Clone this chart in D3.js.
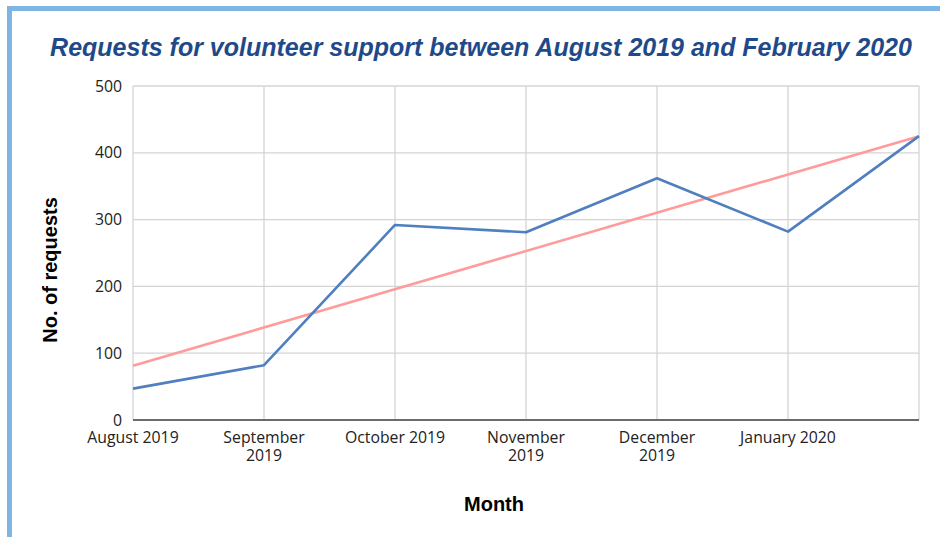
<!DOCTYPE html>
<html>
<head>
<meta charset="utf-8">
<script src="https://cdn.jsdelivr.net/npm/d3@7/dist/d3.min.js"></script>
<style>
  html, body { margin: 0; padding: 0; background: #ffffff; }
  svg { display: block; }
</style>
</head>
<body>
<svg id="chart" width="940" height="537"></svg>
<script>
// Monthly volunteer-support requests
const months = [
  ["August 2019"],
  ["September", "2019"],
  ["October 2019"],
  ["November", "2019"],
  ["December", "2019"],
  ["January 2020"],
  [""]
];
const requests = [47, 82, 292, 281, 362, 282, 425];
const yTicks = [0, 100, 200, 300, 400, 500];

const W = 940, H = 537;
const margin = { left: 133, right: 21, top: 86, bottom: 117 };
const tickFont = "'Open Sans', 'Noto Sans', sans-serif";
const tickSize = 15.8;

const svg = d3.select("#chart");

// Light-blue frame on the top and left edges
svg.append("rect").attr("x", 7).attr("y", 6).attr("width", W - 7).attr("height", 5).attr("fill", "#7fb5e4");
svg.append("rect").attr("x", 7).attr("y", 6).attr("width", 5).attr("height", H - 6).attr("fill", "#7fb5e4");

const x = d3.scalePoint()
  .domain(d3.range(months.length))
  .range([margin.left, W - margin.right]);

const y = d3.scaleLinear()
  .domain([0, 500])
  .range([H - margin.bottom, margin.top]);

// Horizontal gridlines
svg.append("g")
  .selectAll("line")
  .data(yTicks.filter(d => d > 0))
  .join("line")
  .attr("x1", margin.left).attr("x2", W - margin.right)
  .attr("y1", d => y(d)).attr("y2", d => y(d))
  .attr("stroke", "#d4d4d4").attr("stroke-width", 1.3);

// Vertical gridlines at every month
svg.append("g")
  .selectAll("line")
  .data(d3.range(months.length))
  .join("line")
  .attr("x1", d => x(d)).attr("x2", d => x(d))
  .attr("y1", margin.top).attr("y2", H - margin.bottom)
  .attr("stroke", "#d4d4d4").attr("stroke-width", 1.3);

// Y axis labels
const yAxis = d3.axisLeft(y).tickValues(yTicks).tickSize(0).tickPadding(11);
const yg = svg.append("g").attr("transform", `translate(${margin.left},0)`).call(yAxis);
yg.select(".domain").remove();
yg.selectAll("text")
  .attr("font-family", tickFont)
  .attr("font-size", tickSize)
  .attr("fill", "#222");

// X axis baseline
svg.append("line")
  .attr("x1", margin.left).attr("x2", W - margin.right)
  .attr("y1", y(0)).attr("y2", y(0))
  .attr("stroke", "#6b6b6b").attr("stroke-width", 2);

// Month labels (wrapped onto two lines where needed)
const xl = svg.append("g")
  .selectAll("text")
  .data(months)
  .join("text")
  .attr("text-anchor", "middle")
  .attr("font-family", tickFont)
  .attr("font-size", tickSize)
  .attr("fill", "#222")
  .attr("transform", (d, i) => `translate(${x(i)},${y(0) + 23})`);
xl.selectAll("tspan")
  .data(d => d)
  .join("tspan")
  .attr("x", 0)
  .attr("dy", (d, i) => i === 0 ? 0 : 18)
  .text(d => d);

// Linear trendline (least-squares fit of the monthly values)
const idx = d3.range(requests.length);
const mx = d3.mean(idx), my = d3.mean(requests);
const slope = d3.sum(idx, i => (i - mx) * (requests[i] - my)) / d3.sum(idx, i => (i - mx) ** 2);
const intercept = my - slope * mx;
const trend = [0, requests.length - 1].map(i => [i, intercept + slope * i]);

svg.append("path")
  .datum(trend)
  .attr("fill", "none")
  .attr("stroke", "#ff9b9b")
  .attr("stroke-width", 2.6)
  .attr("d", d3.line().x(d => x(d[0])).y(d => y(d[1])));

// Requests line
svg.append("path")
  .datum(requests)
  .attr("fill", "none")
  .attr("stroke", "#4f7fbf")
  .attr("stroke-width", 2.6)
  .attr("stroke-linejoin", "round")
  .attr("d", d3.line().x((d, i) => x(i)).y(d => y(d)));

// Title
svg.append("text")
  .attr("x", 481).attr("y", 56)
  .attr("text-anchor", "middle")
  .attr("font-family", "'Liberation Sans', Arial, sans-serif")
  .attr("font-size", 25)
  .attr("font-weight", "bold")
  .attr("font-style", "italic")
  .attr("fill", "#1f4a8a")
  .text("Requests for volunteer support between August 2019 and February 2020");

// Axis titles
svg.append("text")
  .attr("transform", "translate(57,270) rotate(-90)")
  .attr("text-anchor", "middle")
  .attr("font-family", "'Liberation Sans', Arial, sans-serif")
  .attr("font-size", 20)
  .attr("font-weight", "bold")
  .attr("fill", "#000")
  .text("No. of requests");

svg.append("text")
  .attr("x", 494).attr("y", 511)
  .attr("text-anchor", "middle")
  .attr("font-family", "'Liberation Sans', Arial, sans-serif")
  .attr("font-size", 20)
  .attr("font-weight", "bold")
  .attr("fill", "#000")
  .text("Month");
</script>
</body>
</html>
